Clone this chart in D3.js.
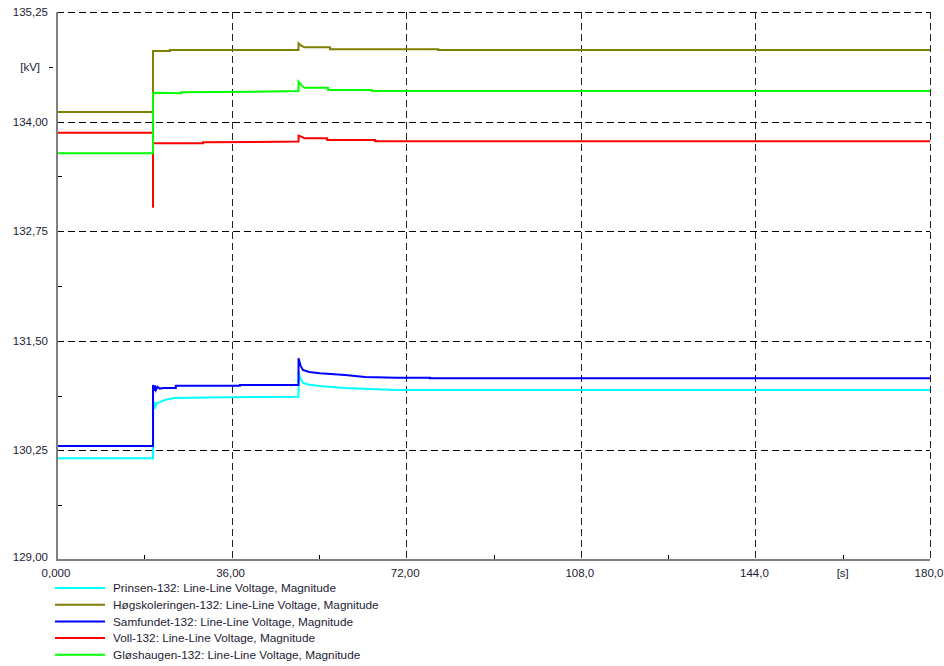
<!DOCTYPE html>
<html>
<head>
<meta charset="utf-8">
<script src="https://cdn.jsdelivr.net/npm/d3@7"></script>
<style>
  body { margin: 0; background: #fff; }
  svg text { font-family: "Liberation Sans", Arial, sans-serif; font-size: 11.5px; fill: #1c1c34; }
  svg .legend text { font-size: 11.8px; }
</style>
</head>
<body>
<div id="chart"></div>
<script>
// time [s], voltage [kV]
const prinsen = [[0,130.16],[19.8,130.16],[19.8,130.83],[19.95,130.72],[20.1,130.80],[20.3,130.75],[20.6,130.79],[21.2,130.80],[22.5,130.83],[24.3,130.848],[35,130.855],[49.8,130.863],[49.8,131.148],[50.2,131.07],[50.7,131.019],[52,130.998],[54.2,130.985],[59.4,130.962],[64.5,130.95],[70,130.939],[180,130.939]];
const hogskoleringen = [[0,134.11],[19.8,134.11],[19.8,134.805],[23.3,134.805],[23.3,134.817],[49.8,134.817],[49.8,134.893],[50.3,134.87],[51,134.847],[56.3,134.847],[56.3,134.825],[78.6,134.825],[78.6,134.817],[180,134.817]];
const samfundet = [[0,130.30],[19.8,130.30],[19.8,130.996],[20.0,130.93],[20.2,130.99],[20.4,130.94],[20.7,130.975],[21.2,130.955],[22,130.962],[24.5,130.962],[24.5,130.988],[37.7,130.988],[37.7,130.996],[49.8,130.996],[49.8,131.301],[50.2,131.22],[50.7,131.167],[52,131.145],[54.2,131.13],[59.4,131.11],[63.5,131.087],[70,131.078],[76.9,131.078],[76.9,131.072],[180,131.072]];
const voll = [[0,133.873],[19.8,133.873],[19.8,133.018],[19.8,133.753],[30.1,133.753],[30.1,133.764],[49.8,133.772],[49.8,133.839],[50.5,133.825],[51,133.81],[55.7,133.81],[55.7,133.79],[65.6,133.79],[65.6,133.776],[180,133.776]];
const gloshaugen = [[0,133.639],[19.8,133.639],[19.8,134.323],[20.3,134.33],[25.6,134.323],[25.6,134.334],[40,134.34],[49.8,134.349],[49.8,134.455],[50.5,134.41],[51,134.387],[55.9,134.387],[55.9,134.36],[64.9,134.36],[64.9,134.349],[180,134.349]];

const seriesNames = ["Prinsen-132: Line-Line Voltage, Magnitude", "Høgskoleringen-132: Line-Line Voltage, Magnitude", "Samfundet-132: Line-Line Voltage, Magnitude", "Voll-132: Line-Line Voltage, Magnitude", "Gløshaugen-132: Line-Line Voltage, Magnitude"];
const seriesColors = ["#00ffff", "#808000", "#0000ff", "#ff0000", "#00ff00"];
const seriesData = [prinsen, hogskoleringen, samfundet, voll, gloshaugen];

const xMajor = [0, 36, 72, 108, 144, 180];
const xMajorLabels = ["0,000", "36,00", "72,00", "108,0", "144,0", "180,0"];
const xMinor = [18, 54, 90, 126, 162];
const yMajor = [129, 130.25, 131.5, 132.75, 134, 135.25];
const yMajorLabels = ["129,00", "130,25", "131,50", "132,75", "134,00", "135,25"];
const yMinor = [129.625, 130.875, 132.125, 133.375];
const yUnitPos = 134.625;

const W = 944, H = 666;
const margin = { top: 12, right: 14, bottom: 106, left: 57 },
    width = W - margin.left - margin.right,
    height = H - margin.top - margin.bottom;

const svg = d3.select("#chart").append("svg")
    .attr("width", W)
    .attr("height", H);

const g = svg.append("g")
    .attr("transform", `translate(${margin.left},${margin.top})`);

const x = d3.scaleLinear().domain([0, 180]).range([0, width]);
const y = d3.scaleLinear().domain([129, 135.25]).range([height, 0]);

// dashed grid
g.append("g")
    .selectAll("line")
    .data(yMajor.slice(1))
    .enter().append("line")
    .attr("x1", 0).attr("x2", width)
    .attr("y1", d => Math.round(y(d)) + 0.5).attr("y2", d => Math.round(y(d)) + 0.5)
    .attr("stroke", "#000")
    .attr("stroke-dasharray", "7,4");

g.append("g")
    .selectAll("line")
    .data(xMajor.slice(1))
    .enter().append("line")
    .attr("x1", d => Math.round(x(d)) + 0.5).attr("x2", d => Math.round(x(d)) + 0.5)
    .attr("y1", 0).attr("y2", height)
    .attr("stroke", "#222")
    .attr("stroke-dasharray", "7,4");

// minor ticks
g.append("g")
    .selectAll("line")
    .data(yMinor)
    .enter().append("line")
    .attr("x1", 0).attr("x2", 5)
    .attr("y1", d => Math.round(y(d)) + 0.5).attr("y2", d => Math.round(y(d)) + 0.5)
    .attr("stroke", "#000");

g.append("line")
    .attr("x1", -8).attr("x2", -4)
    .attr("y1", Math.round(y(yUnitPos)) + 0.5).attr("y2", Math.round(y(yUnitPos)) + 0.5)
    .attr("stroke", "#000");

g.append("g")
    .selectAll("line")
    .data(xMinor)
    .enter().append("line")
    .attr("x1", d => Math.round(x(d)) + 0.5).attr("x2", d => Math.round(x(d)) + 0.5)
    .attr("y1", height).attr("y2", height - 5)
    .attr("stroke", "#000");

// series
const line = d3.line()
    .x(d => x(d[0]))
    .y(d => y(d[1]));

g.append("g")
    .selectAll("path")
    .data(seriesData)
    .enter().append("path")
    .attr("d", line)
    .attr("fill", "none")
    .attr("stroke", (d, i) => seriesColors[i])
    .attr("stroke-width", 2);

// axes frame
g.append("line")
    .attr("x1", 0).attr("x2", 0).attr("y1", 0).attr("y2", height + 1)
    .attr("stroke", "#808080").attr("stroke-width", 2);
g.append("line")
    .attr("x1", -1).attr("x2", width).attr("y1", height).attr("y2", height)
    .attr("stroke", "#808080").attr("stroke-width", 2);

// tick labels
g.append("g")
    .selectAll("text")
    .data(yMajor)
    .enter().append("text")
    .attr("x", -9)
    .attr("y", d => y(d))
    .attr("dy", d => d === 129 ? "0.1em" : "0.35em")
    .attr("text-anchor", "end")
    .text((d, i) => yMajorLabels[i]);

g.append("text")
    .attr("x", -17)
    .attr("y", y(yUnitPos))
    .attr("dy", "0.35em")
    .attr("text-anchor", "end")
    .text("[kV]");

g.append("g")
    .selectAll("text")
    .data(xMajor)
    .enter().append("text")
    .attr("x", d => x(d) - 1)
    .attr("y", height + 17)
    .attr("text-anchor", "middle")
    .text((d, i) => xMajorLabels[i]);

g.append("text")
    .attr("x", x(162))
    .attr("y", height + 17)
    .attr("text-anchor", "middle")
    .text("[s]");

// legend
const legend = svg.append("g")
    .attr("class", "legend")
    .selectAll("g")
    .data(seriesNames)
    .enter().append("g")
    .attr("transform", (d, i) => `translate(55,${588 + i * 16.7})`);

legend.append("line")
    .attr("x1", 0).attr("x2", 50)
    .attr("stroke", (d, i) => seriesColors[i])
    .attr("stroke-width", 2);

legend.append("text")
    .attr("x", 58)
    .attr("dy", "0.35em")
    .text(d => d);
</script>
</body>
</html>
